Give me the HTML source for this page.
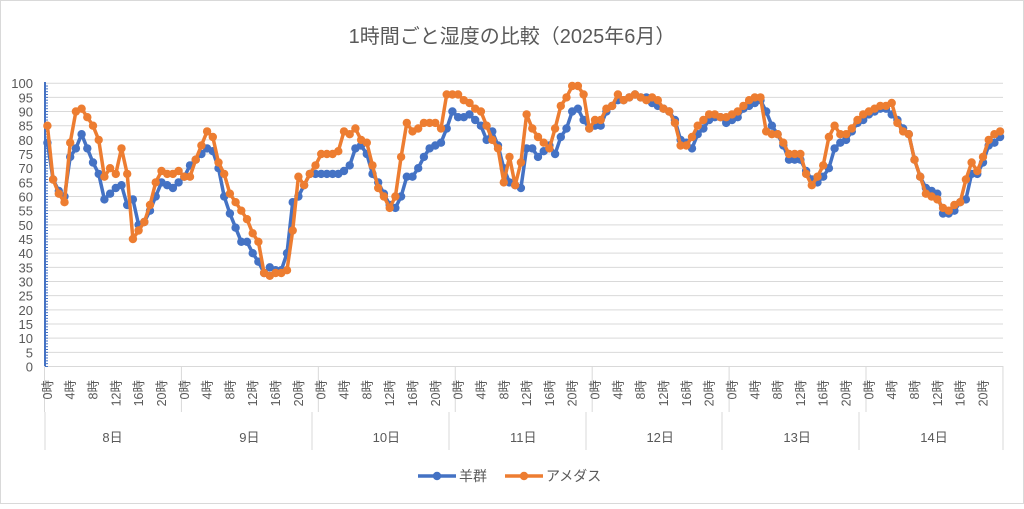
<!DOCTYPE html>
<html><head><meta charset="utf-8"><style>
body{margin:0;background:#fff}
svg text{font-family:"Liberation Sans","Noto Sans CJK JP",sans-serif;fill:#595959}
</style></head><body>
<svg id="c" width="1024" height="504" viewBox="0 0 1024 504" xmlns="http://www.w3.org/2000/svg">
<rect x="0.5" y="0.5" width="1023" height="503" fill="#fff" stroke="#d9d9d9"/>
<text x="512" y="43" font-size="20" text-anchor="middle">1時間ごと湿度の比較（2025年6月）</text>
<g id="g"></g>
<line x1="418" y1="476" x2="456" y2="476" stroke="#4472C4" stroke-width="3.5"/><circle cx="437" cy="476" r="4.2" fill="#4472C4"/>
<text x="459" y="481" font-size="14">羊群</text>
<line x1="505" y1="476" x2="543" y2="476" stroke="#ED7D31" stroke-width="3.5"/><circle cx="524" cy="476" r="4.2" fill="#ED7D31"/>
<text x="546" y="481" font-size="14">アメダス</text>
</svg>
<script>
var B=[79,66,62,60,74,77,82,77,72,68,59,61,63,64,57,59,50,51,55,60,65,64,63,65,
67,71,73,75,77,76,70,60,54,49,44,44,40,37,33,35,34,34,40,58,60,64,68,68,
68,68,68,68,69,71,77,78,75,68,65,61,57,56,60,67,67,70,74,77,78,79,84,90,
88,88,89,87,85,80,83,78,70,65,64,63,77,77,74,76,78,75,81,84,90,91,87,84,
85,85,90,92,94,94,95,96,95,95,93,92,91,90,87,80,79,77,82,84,87,88,88,86,
87,88,91,92,93,94,90,85,82,78,73,73,73,69,66,65,67,70,77,79,80,83,86,87,
89,90,91,91,89,87,84,82,73,67,63,62,61,54,54,55,58,59,68,68,72,78,79,81];
var O=[85,66,61,58,79,90,91,88,85,80,67,70,68,77,68,45,48,51,57,65,69,68,68,69,
67,67,73,78,83,81,72,68,61,58,55,52,47,44,33,32,33,33,34,48,67,64,68,71,
75,75,75,76,83,82,84,80,79,71,63,60,56,60,74,86,83,84,86,86,86,84,96,96,
96,94,93,91,90,85,80,77,65,74,64,72,89,84,81,79,77,84,92,95,99,99,96,84,
87,87,91,92,96,94,95,96,95,94,95,94,91,90,86,78,78,81,85,87,89,89,88,88,
89,90,92,94,95,95,83,82,82,79,75,75,75,68,64,67,71,81,85,82,82,84,87,89,
90,91,92,92,93,86,83,82,73,67,61,60,59,56,55,57,58,66,72,69,74,80,82,83];
var L=44.5,W=5.705,Y0=366.5,S=2.833,h='';
function X(i){return L+(i+.5)*W}function Y(v){return Y0-v*S}
for(var v=0;v<=100;v+=5){var y=Y(v);h+='<line x1="45" x2="1003" y1="'+y+'" y2="'+y+'" stroke="#d9d9d9" stroke-width="1"/>';
h+='<text x="33" y="'+(y+5)+'" font-size="13" text-anchor="end">'+v+'</text>';}
for(var v=0;v<100;v++){var y=Y(v);h+='<line x1="45" x2="48" y1="'+y+'" y2="'+y+'" stroke="#4472C4" stroke-width="1"/>';}
h+='<line x1="45" y1="82" x2="45" y2="367" stroke="#4472C4" stroke-width="2"/>';
for(var d=0;d<=7;d++){var x=L+d*24*W;h+='<line x1="'+x+'" x2="'+x+'" y1="366" y2="412" stroke="#d9d9d9"/>';
 if(d<7){h+='<text x="'+(x+68)+'" y="442" font-size="13" text-anchor="middle">'+(8+d)+'日</text>';
 for(var k=0;k<24;k+=4){var tx=L+(d*24+k+.5)*W+4.5;h+='<text transform="translate('+tx+',380) rotate(-90)" font-size="12.5" text-anchor="end">'+k+'時</text>';}}}
var lx=[45,312,449,586,722,859,1003];
lx.forEach(function(x){h+='<line x1="'+x+'" x2="'+x+'" y1="412" y2="450" stroke="#d9d9d9"/>';});
function ser(a,c){var p='';a.forEach(function(v,i){p+=(i?'L':'M')+X(i).toFixed(1)+' '+Y(v).toFixed(1)});
 var s='<path d="'+p+'" fill="none" stroke="'+c+'" stroke-width="3.5" stroke-linejoin="round"/>';
 a.forEach(function(v,i){s+='<circle cx="'+X(i).toFixed(1)+'" cy="'+Y(v).toFixed(1)+'" r="4.2" fill="'+c+'"/>'});return s;}
h+=ser(B,'#4472C4')+ser(O,'#ED7D31');
document.getElementById('g').innerHTML=h;
</script>
</body></html>
